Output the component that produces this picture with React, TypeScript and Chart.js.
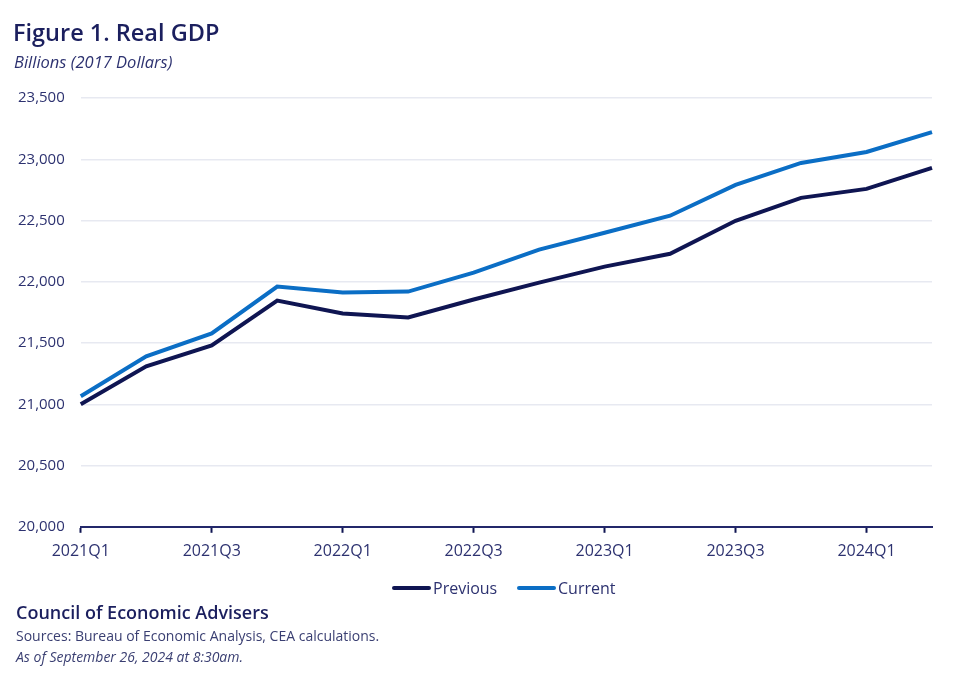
import React, { useEffect, useRef } from "react";
import { Chart, registerables } from "chart.js";

Chart.register(...registerables);

const categories = [
  "2021Q1", "2021Q2", "2021Q3", "2021Q4",
  "2022Q1", "2022Q2", "2022Q3", "2022Q4",
  "2023Q1", "2023Q2", "2023Q3", "2023Q4",
  "2024Q1", "2024Q2",
];

const previousValues = [
  21001, 21310, 21481, 21847, 21741, 21709, 21855, 21993,
  22124, 22229, 22498, 22685, 22758, 22929,
];

const currentValues = [
  21066, 21391, 21579, 21961, 21912, 21920, 22075, 22262,
  22400, 22539, 22791, 22970, 23059, 23222,
];

const seriesNames = ["Previous", "Current"];

const yMin = 20000;
const yMax = 23500;
const yStep = 500;

const NAVY = "#0f1552";
const BLUE = "#0b6ec5";
const TEXT = "#2d3270";
const FONT = "'Open Sans', 'Noto Sans', sans-serif";

export default function App() {
  const canvasRef = useRef<HTMLCanvasElement | null>(null);

  useEffect(() => {
    document.body.style.margin = "0";
    const canvas = canvasRef.current;
    if (!canvas) return;
    const chart = new Chart(canvas, {
      type: "line",
      data: {
        labels: categories,
        datasets: [
          {
            label: seriesNames[0],
            data: previousValues,
            borderColor: NAVY,
            backgroundColor: NAVY,
            borderWidth: 4,
            pointRadius: 0,
            tension: 0,
          },
          {
            label: seriesNames[1],
            data: currentValues,
            borderColor: BLUE,
            backgroundColor: BLUE,
            borderWidth: 4,
            pointRadius: 0,
            tension: 0,
          },
        ],
      },
      options: {
        responsive: false,
        animation: false,
        layout: { padding: { left: 2, right: 47, top: 98, bottom: 130 } },
        plugins: {
          legend: { display: false },
          tooltip: { enabled: false },
        },
        scales: {
          x: {
            offset: false,
            grid: {
              drawOnChartArea: false,
              drawTicks: true,
              tickLength: 6,
              tickWidth: 2,
              color: (ctx: any) => (ctx.index % 2 === 0 ? NAVY : "rgba(0,0,0,0)"),
            },
            border: { display: true, color: "#23286a", width: 2 },
            ticks: {
              autoSkip: false,
              maxRotation: 0,
              padding: 9,
              color: TEXT,
              font: { family: FONT, size: 16 },
              callback: (_v: any, i: number) => (i % 2 === 0 ? categories[i] : ""),
            },
          },
          y: {
            min: yMin,
            max: yMax,
            border: { display: false },
            grid: { color: "#e7e9f1", lineWidth: 1.5, drawTicks: false },
            ticks: {
              stepSize: yStep,
              padding: 16,
              color: TEXT,
              font: { family: FONT, size: 15 },
              callback: (v: any) => Number(v).toLocaleString("en-US"),
            },
          },
        },
      },
    });
    return () => chart.destroy();
  }, []);

  const legendItems = [
    { name: seriesNames[0], color: NAVY, lineLeft: 392, textLeft: 433 },
    { name: seriesNames[1], color: BLUE, lineLeft: 517, textLeft: 558 },
  ];

  return (
    <div style={{ position: "relative", width: 979, height: 700, background: "#fff", fontFamily: FONT }}>
      <canvas ref={canvasRef} width={979} height={700} style={{ position: "absolute", left: 0, top: 0 }} />
      <div style={{ position: "absolute", left: 13, top: 17, fontSize: 23.5, fontWeight: 600, color: "#1b1f5e", lineHeight: "30px" }}>
        Figure 1. Real GDP
      </div>
      <div style={{ position: "absolute", left: 14, top: 50, fontSize: 16.5, fontStyle: "italic", color: "#2d3270", lineHeight: "24px" }}>
        Billions (2017 Dollars)
      </div>
      {legendItems.map((it) => (
        <React.Fragment key={it.name}>
          <div style={{ position: "absolute", left: it.lineLeft, top: 586, width: 39, height: 4, background: it.color, borderRadius: 2 }} />
          <div style={{ position: "absolute", left: it.textLeft, top: 577, fontSize: 16, color: TEXT, lineHeight: "22px" }}>
            {it.name}
          </div>
        </React.Fragment>
      ))}
      <div style={{ position: "absolute", left: 16, top: 600, fontSize: 18, fontWeight: 600, color: "#1b1f5e", lineHeight: "24px" }}>
        Council of Economic Advisers
      </div>
      <div style={{ position: "absolute", left: 16, top: 626, fontSize: 14, color: "#3a3f72", lineHeight: "20px" }}>
        Sources: Bureau of Economic Analysis, CEA calculations.
      </div>
      <div style={{ position: "absolute", left: 16, top: 647, fontSize: 14, fontStyle: "italic", color: "#3a3f72", lineHeight: "20px" }}>
        As of September 26, 2024 at 8:30am.
      </div>
    </div>
  );
}
